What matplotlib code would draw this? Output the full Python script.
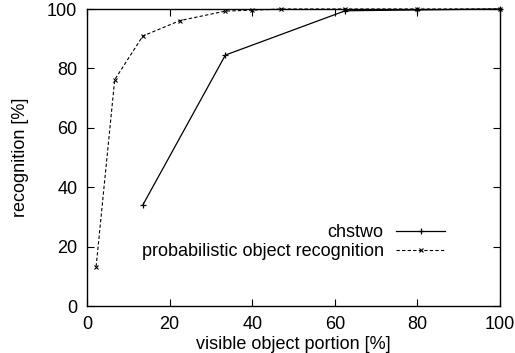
import matplotlib
matplotlib.use("Agg")
import matplotlib.pyplot as plt

plt.rcParams['font.family'] = ['Liberation Sans', 'DejaVu Sans']

# chstwo
x_chs = [13.5, 33.5, 62.5, 80, 100]
y_chs = [34.0, 84.5, 99.4, 99.7, 100.0]

# probabilistic object recognition
x_prob = [2.2, 6.7, 13.5, 22.5, 33.5, 40, 47, 62.5, 80, 100]
y_prob = [13.3, 76.2, 90.9, 96.1, 99.3, 99.6, 100.0, 100.0, 100.0, 100.0]

fig = plt.figure(figsize=(5.15, 3.53), dpi=100)
ax = fig.add_axes([0.169, 0.133, 0.802, 0.8415])

ax.plot(x_chs, y_chs, '-', color='black', lw=0.9, marker='+', ms=4, mew=0.9,
        label='chstwo', clip_on=False)
ax.plot(x_prob, y_prob, '--', color='black', lw=0.8, dashes=(3, 2),
        marker='x', ms=3.5, mew=0.8, label='probabilistic object recognition',
        clip_on=False)

ax.set_xlim(0, 100)
ax.set_ylim(0, 100)
ax.set_xticks([0, 20, 40, 60, 80, 100])
ax.set_yticks([0, 20, 40, 60, 80, 100])
ax.tick_params(direction='in', length=5, width=0.8, top=True, right=True,
               labelsize=13, pad=7)
for s in ax.spines.values():
    s.set_linewidth(1.0)

ax.set_xlabel('visible object portion [%]', fontsize=13, labelpad=2)
ax.set_ylabel('recognition [%]', fontsize=13, labelpad=13)

ax.legend(loc='center right', bbox_to_anchor=(0.867, 0.215), frameon=False,
          markerfirst=False, handlelength=2.7, handletextpad=0.7,
          labelspacing=0.1, borderpad=0, borderaxespad=0, fontsize=13)

fig.savefig('out.png', dpi=100)
